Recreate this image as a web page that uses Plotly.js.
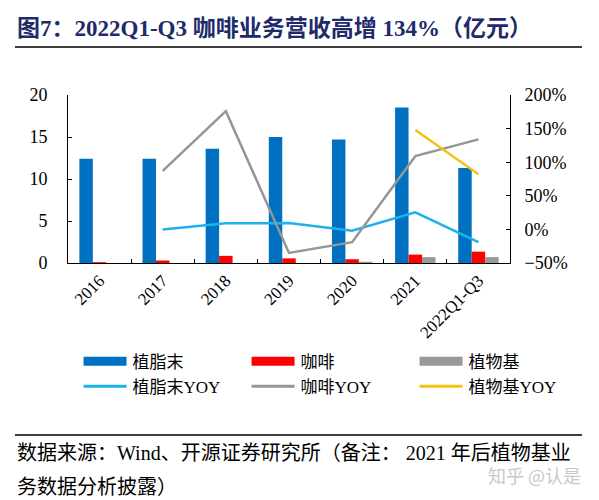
<!DOCTYPE html>
<html>
<head>
<meta charset="utf-8">
<script src="https://cdn.plot.ly/plotly-3.0.1.min.js"></script>
<style>
    html, body { margin: 0; padding: 0; background: #ffffff; }
    #chart { width: 599px; height: 500px; }
</style>
</head>
<body>
<div id="chart"></div>
<script>
// categories and values (亿元 / %)
var years = ["2016", "2017", "2018", "2019", "2020", "2021", "2022Q1-Q3"];
var creamerRevenue = [12.4, 12.4, 13.6, 15.0, 14.7, 18.5, 11.3];
var coffeeRevenue = [0.1, 0.3, 0.85, 0.55, 0.45, 1.0, 1.35];
var plantRevenue = [null, null, null, null, 0.15, 0.7, 0.7];
var creamerYoy = [null, 0, 9, 9.5, -2, 25.5, -19];
var coffeeYoy = [null, 87, 176, -35, -19, 109, 134];
var plantYoy = [null, null, null, null, null, 148, 82];

var serif = "Liberation Serif, Times New Roman, Noto Sans CJK SC, serif";

var creamerBarTrace =
{
    x: years, y: creamerRevenue, name: "植脂末", type: "bar",
    marker: { color: "#0070C0" }
};

var coffeeBarTrace =
{
    x: years, y: coffeeRevenue, name: "咖啡", type: "bar",
    marker: { color: "#FF0000" }
};

var plantBarTrace =
{
    x: years, y: plantRevenue, name: "植物基", type: "bar",
    marker: { color: "#999999" }
};

var creamerYoyTrace =
{
    x: years, y: creamerYoy, name: "植脂末YOY", type: "scatter", mode: "lines",
    yaxis: "y2", line: { color: "#1CB2EA", width: 2.5 }
};

var coffeeYoyTrace =
{
    x: years, y: coffeeYoy, name: "咖啡YOY", type: "scatter", mode: "lines",
    yaxis: "y2", line: { color: "#969696", width: 2.5 }
};

var plantYoyTrace =
{
    x: years, y: plantYoy, name: "植物基YOY", type: "scatter", mode: "lines",
    yaxis: "y2", line: { color: "#F2C314", width: 2.5 }
};

var data = [creamerBarTrace, coffeeBarTrace, plantBarTrace, creamerYoyTrace, coffeeYoyTrace, plantYoyTrace];

var layout =
{
    width: 599,
    height: 500,
    margin: { l: 68, r: 89, t: 95, b: 237 },
    paper_bgcolor: "#ffffff",
    plot_bgcolor: "#ffffff",
    font: { family: serif, size: 17, color: "#000000" },
    barmode: "group",
    bargap: 0.36,
    bargroupgap: 0,
    showlegend: true,
    legend:
    {
        orientation: "h",
        x: -0.001, xanchor: "left",
        y: -0.48, yanchor: "top",
        entrywidth: 98,
        itemwidth: 55,
        traceorder: "normal",
        tracegroupgap: 0,
        font: { family: serif, size: 17, color: "#000000" }
    },
    xaxis:
    {
        type: "category",
        showline: true, linecolor: "#000000", linewidth: 1,
        ticks: "inside", tickson: "boundaries", ticklen: 4, tickcolor: "#000000",
        tickangle: -45,
        tickfont: { family: serif, size: 17 },
        showgrid: false, zeroline: false
    },
    yaxis:
    {
        range: [0, 20], dtick: 5,
        showline: true, linecolor: "#000000", linewidth: 1,
        ticks: "inside", ticklen: 4, tickcolor: "#000000",
        ticklabelstandoff: 16,
        tickfont: { family: serif, size: 18 },
        showgrid: false, zeroline: false
    },
    yaxis2:
    {
        overlaying: "y", side: "right",
        range: [-50, 200], dtick: 50, ticksuffix: "%",
        showline: true, linecolor: "#000000", linewidth: 1,
        ticks: "inside", ticklen: 4, tickcolor: "#000000",
        ticklabelstandoff: 10,
        tickfont: { family: serif, size: 18 },
        showgrid: false, zeroline: false
    },
    shapes:
    [
        { type: "line", xref: "paper", yref: "paper", x0: -0.12, x1: 1.163, y0: 1.286, y1: 1.286, line: { color: "#000000", width: 1.5 } },
        { type: "line", xref: "paper", yref: "paper", x0: -0.12, x1: 1.163, y0: -1.024, y1: -1.024, line: { color: "#000000", width: 1.5 } }
    ],
    annotations:
    [
        {
            text: "<b>图7：2022Q1-Q3 咖啡业务营收高增 134%（亿元）</b>",
            xref: "paper", yref: "paper", x: -0.12, y: 1.395, xanchor: "left", yanchor: "middle",
            showarrow: false, font: { family: serif, size: 23, color: "#1E2A6A" }
        },
        {
            text: "数据来源：Wind、开源证券研究所（备注： 2021 年后植物基业",
            xref: "paper", yref: "paper", x: -0.12, y: -1.131, xanchor: "left", yanchor: "middle",
            showarrow: false, font: { family: serif, size: 20, color: "#000000" }
        },
        {
            text: "务数据分析披露）",
            xref: "paper", yref: "paper", x: -0.12, y: -1.333, xanchor: "left", yanchor: "middle",
            showarrow: false, font: { family: serif, size: 20, color: "#000000" }
        },
        {
            text: "知乎 @认是",
            xref: "paper", yref: "paper", x: 1.165, y: -1.262, xanchor: "right", yanchor: "middle",
            showarrow: false, font: { family: "Noto Sans CJK SC, sans-serif", size: 18, color: "#C8C8C8" }
        }
    ]
};

var config = { staticPlot: true, displayModeBar: false };

Plotly.newPlot("chart", data, layout, config).then(function(gd)
{
    // legend keys in the source are long flat bars / lines, set in from the entry start
    gd.querySelectorAll(".legend .legendpoints path").forEach(function(p)
    {
        p.setAttribute("transform", "");
        p.setAttribute("d", "M16,-4.5H59V4.5H16Z");
    });
    gd.querySelectorAll(".legend .legendlines path").forEach(function(p)
    {
        p.setAttribute("d", "M16,0h43");
        p.style.strokeWidth = "3px";
    });
});
</script>
</body>
</html>
